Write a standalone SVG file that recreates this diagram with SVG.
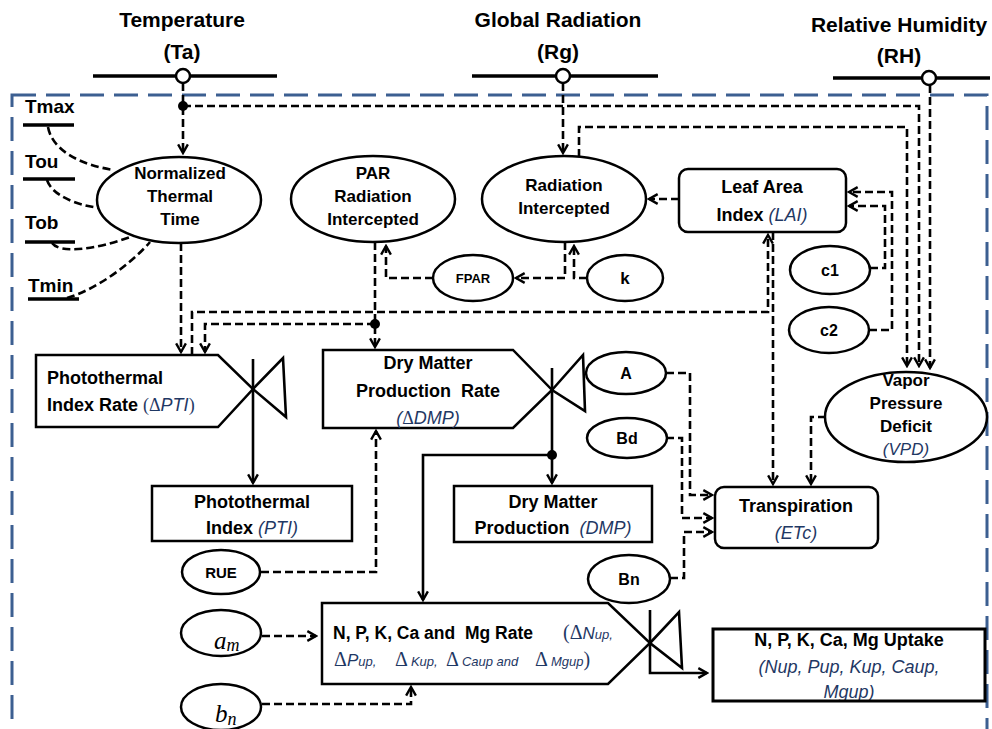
<svg xmlns="http://www.w3.org/2000/svg" width="992" height="729" viewBox="0 0 992 729">
<defs>
<style>
.t{font-family:"Liberation Sans",Arial,sans-serif;font-weight:bold;fill:#000}
.i{font-family:"Liberation Sans",Arial,sans-serif;font-weight:normal;font-style:italic;fill:#1F3864}
.g{font-family:"Liberation Serif","Times New Roman",serif;font-weight:normal;font-style:normal;fill:#1F3864}
.m{font-family:"Liberation Serif","Times New Roman",serif;font-style:italic;font-weight:normal;fill:#000}
.d{fill:none;stroke:#000;stroke-width:2.6;stroke-dasharray:8 4}
.s{fill:none;stroke:#000;stroke-width:2.6}
.n{fill:#fff;stroke:#000;stroke-width:2.5}
.h{stroke:#000;stroke-width:3.5}
</style>
<marker id="a" viewBox="-1 -1 12 12" refX="9" refY="5" markerWidth="13" markerHeight="13" markerUnits="userSpaceOnUse" orient="auto">
<path d="M1,0.5 L9,5 L1,9.5" fill="none" stroke="#000" stroke-width="2.2" stroke-dasharray="none"/>
</marker>
<clipPath id="upc"><rect x="713" y="629" width="272" height="71"/></clipPath>
</defs>
<rect width="992" height="729" fill="#fff"/>
<rect x="12" y="95" width="975" height="680" fill="none" stroke="#3C5F91" stroke-width="3" stroke-dasharray="24 10"/>

<g id="connectors">
<path class="d" d="M183,83 V153" marker-end="url(#a)"/>
<path class="d" d="M183,106 H919 V366" marker-end="url(#a)"/>
<path class="d" d="M563,83 V153" marker-end="url(#a)"/>
<path class="d" d="M579,157 V127 H907 V366" marker-end="url(#a)"/>
<path class="d" d="M930,85 V368" marker-end="url(#a)"/>
<path class="d" d="M48,127 C52,150 80,165 114,170"/>
<path class="d" d="M47,180 C52,195 75,205 100,208"/>
<path class="d" d="M52,243 C60,254 95,250 133,236"/>
<path class="d" d="M67,298 C95,290 130,265 150,242"/>
<path class="d" d="M181,243 V352" marker-end="url(#a)"/>
<path class="d" d="M192,355 V312 H768 V235" marker-end="url(#a)"/>
<path class="d" d="M375,324 H205 V352" marker-end="url(#a)"/>
<path class="d" d="M375,242 V347" marker-end="url(#a)"/>
<path class="d" d="M433,278 H386 V246" marker-end="url(#a)"/>
<path class="d" d="M565,242 V278 H516" marker-end="url(#a)"/>
<path class="d" d="M587,278 H574 V246" marker-end="url(#a)"/>
<path class="d" d="M679,199 H649" marker-end="url(#a)"/>
<path class="d" d="M870,268 H885 V206 H849" marker-end="url(#a)"/>
<path class="d" d="M869,330 H892 V192 H849" marker-end="url(#a)"/>
<path class="d" d="M773,232 V484" marker-end="url(#a)"/>
<path class="d" d="M826,417 H811 V484" marker-end="url(#a)"/>
<path class="d" d="M666,373 H690 V495 H712" marker-end="url(#a)"/>
<path class="d" d="M666,438 H682 V518 H712" marker-end="url(#a)"/>
<path class="d" d="M670,578 H684 V532 H712" marker-end="url(#a)"/>
<path class="d" d="M261,572 H376 V431" marker-end="url(#a)"/>
<path class="d" d="M262,636 H316" marker-end="url(#a)"/>
<path class="d" d="M262,704 H411 V687" marker-end="url(#a)"/>
<path class="s" d="M253,359 V483" marker-end="url(#a)"/>
<path class="s" d="M552,368 V483" marker-end="url(#a)"/>
<path class="s" d="M552,455 H423 V600" marker-end="url(#a)"/>
<path class="s" d="M650,610 V673 H707" marker-end="url(#a)"/>
<circle cx="183" cy="106" r="5" fill="#000"/>
<circle cx="375" cy="324" r="5" fill="#000"/>
<circle cx="552" cy="455" r="5" fill="#000"/>
</g>

<g id="ta">
<text class="t" x="182" y="27" font-size="21" text-anchor="middle">Temperature</text>
<text class="t" x="182" y="59" font-size="21" text-anchor="middle">(Ta)</text>
<line class="h" x1="93" y1="76" x2="277" y2="76"/>
<circle cx="183" cy="76" r="7" fill="#fff" stroke="#000" stroke-width="2.5"/>
</g>
<g id="rg">
<text class="t" x="558" y="27" font-size="21" text-anchor="middle">Global Radiation</text>
<text class="t" x="558" y="59" font-size="21" text-anchor="middle">(Rg)</text>
<line class="h" x1="472" y1="76" x2="658" y2="76"/>
<circle cx="563" cy="76" r="7" fill="#fff" stroke="#000" stroke-width="2.5"/>
</g>
<g id="rh">
<text class="t" x="899" y="32" font-size="21" text-anchor="middle">Relative Humidity</text>
<text class="t" x="899" y="63" font-size="21" text-anchor="middle">(RH)</text>
<line class="h" x1="833" y1="78" x2="990" y2="78"/>
<circle cx="929" cy="78" r="7" fill="#fff" stroke="#000" stroke-width="2.5"/>
</g>

<g id="tparams">
<text class="t" x="25" y="113" font-size="19">Tmax</text>
<line class="h" x1="23" y1="125" x2="74" y2="125"/>
<text class="t" x="25" y="168" font-size="19">Tou</text>
<line class="h" x1="23" y1="179" x2="75" y2="179"/>
<text class="t" x="25" y="229" font-size="19">Tob</text>
<line class="h" x1="25" y1="242" x2="75" y2="242"/>
<text class="t" x="28" y="292" font-size="19">Tmin</text>
<line class="h" x1="28" y1="299" x2="79" y2="299"/>
</g>

<g id="ntt">
<ellipse class="n" cx="179" cy="200" rx="82" ry="43"/>
<text class="t" font-size="17" text-anchor="middle"><tspan x="180" y="179">Normalized</tspan><tspan x="180" y="202">Thermal</tspan><tspan x="180" y="225">Time</tspan></text>
</g>
<g id="par">
<ellipse class="n" cx="373" cy="199" rx="82" ry="43"/>
<text class="t" font-size="17" text-anchor="middle"><tspan x="373" y="179">PAR</tspan><tspan x="373" y="202">Radiation</tspan><tspan x="373" y="225">Intercepted</tspan></text>
</g>
<g id="radint">
<ellipse class="n" cx="564" cy="199" rx="82" ry="43"/>
<text class="t" font-size="17" text-anchor="middle"><tspan x="564" y="191">Radiation</tspan><tspan x="564" y="214">Intercepted</tspan></text>
</g>
<g id="fpar">
<ellipse class="n" cx="473" cy="278" rx="40" ry="23"/>
<text class="t" x="473" y="283" font-size="13" text-anchor="middle">FPAR</text>
</g>
<g id="k">
<ellipse class="n" cx="625" cy="278" rx="38" ry="23"/>
<text class="t" x="625" y="284" font-size="17" text-anchor="middle">k</text>
</g>
<g id="lai">
<rect class="n" x="679" y="169" width="167" height="63" rx="9"/>
<text class="t" x="762" y="193" font-size="18" text-anchor="middle">Leaf Area</text>
<text class="t" x="762" y="221" font-size="18" text-anchor="middle">Index <tspan class="i">(LAI)</tspan></text>
</g>
<g id="c1">
<ellipse class="n" cx="830" cy="270" rx="40" ry="24"/>
<text class="t" x="830" y="276" font-size="16" text-anchor="middle">c1</text>
</g>
<g id="c2">
<ellipse class="n" cx="829" cy="330" rx="40" ry="23"/>
<text class="t" x="829" y="336" font-size="16" text-anchor="middle">c2</text>
</g>
<g id="vpd">
<ellipse class="n" cx="906" cy="417" rx="81" ry="45"/>
<text class="t" font-size="17" text-anchor="middle"><tspan x="906" y="386">Vapor</tspan><tspan x="906" y="409">Pressure</tspan><tspan x="906" y="432">Deficit</tspan></text>
<text class="i" x="906" y="455" font-size="17" text-anchor="middle">(VPD)</text>
</g>

<g id="ptirate">
<path class="n" d="M36,355 H218 L253,389 L218,427 H36 Z"/>
<path class="s" d="M253,389 L283,358 L286,417 Z"/>
<text class="t" x="47" y="384" font-size="18">Photothermal</text>
<text class="t" x="47" y="411" font-size="18">Index Rate <tspan class="g">(Δ</tspan><tspan class="i">PTI</tspan><tspan class="g">)</tspan></text>
</g>
<g id="pti">
<rect class="n" x="152" y="486" width="200" height="55"/>
<text class="t" x="252" y="508" font-size="18" text-anchor="middle">Photothermal</text>
<text class="t" x="252" y="534" font-size="18" text-anchor="middle">Index <tspan class="i">(PTI)</tspan></text>
</g>
<g id="dmprate">
<path class="n" d="M323,350 H513 L552,390 L513,428 H323 Z"/>
<path class="s" d="M552,390 L583,355 L585,411 Z"/>
<text class="t" x="428" y="369" font-size="18" text-anchor="middle">Dry Matter</text>
<text class="t" x="428" y="397" font-size="18" text-anchor="middle">Production&#160; Rate</text>
<text class="i" x="428" y="424" font-size="18" text-anchor="middle">(<tspan class="g">Δ</tspan>DMP)</text>
</g>
<g id="dmp">
<rect class="n" x="454" y="486" width="198" height="56"/>
<text class="t" x="553" y="508" font-size="18" text-anchor="middle">Dry Matter</text>
<text class="t" x="553" y="534" font-size="18" text-anchor="middle">Production&#160; <tspan class="i">(DMP)</tspan></text>
</g>
<g id="a-param">
<ellipse class="n" cx="626" cy="373" rx="40" ry="21"/>
<text class="t" x="626" y="379" font-size="16" text-anchor="middle">A</text>
</g>
<g id="bd">
<ellipse class="n" cx="627" cy="438" rx="40" ry="20"/>
<text class="t" x="627" y="444" font-size="16" text-anchor="middle">Bd</text>
</g>
<g id="bn">
<ellipse class="n" cx="629" cy="579" rx="41" ry="24"/>
<text class="t" x="629" y="585" font-size="16" text-anchor="middle">Bn</text>
</g>
<g id="transp">
<rect class="n" x="715" y="487" width="163" height="61" rx="9"/>
<text class="t" x="796" y="512" font-size="18" text-anchor="middle">Transpiration</text>
<text class="i" x="796" y="539" font-size="18" text-anchor="middle">(ETc)</text>
</g>
<g id="rue">
<ellipse class="n" cx="221" cy="572" rx="39" ry="22"/>
<text class="t" x="221" y="578" font-size="15" text-anchor="middle">RUE</text>
</g>
<g id="am">
<ellipse class="n" cx="221" cy="633" rx="40" ry="23"/>
<text class="m" x="214" y="649" font-size="25">a<tspan font-size="18" dy="2">m</tspan></text>
</g>
<g id="bn-param">
<ellipse class="n" cx="221" cy="707" rx="40" ry="23"/>
<text class="m" x="215" y="722" font-size="25">b<tspan font-size="18" dy="3">n</tspan></text>
</g>
<g id="nrate">
<path class="n" d="M322,603 H608 L650,643 L608,684 H322 Z"/>
<path class="s" d="M650,643 L679,612 L682,668 Z"/>
<text class="t" x="333" y="639" font-size="17.5">N, P, K, Ca and&#160; Mg Rate</text>
<text x="563" y="639"><tspan class="g" font-size="20">(Δ</tspan><tspan class="i" font-size="17">N</tspan><tspan class="i" font-size="13">up,</tspan></text>
<text x="334" y="666"><tspan class="g" font-size="20">Δ</tspan><tspan class="i" font-size="17">P</tspan><tspan class="i" font-size="13">up,</tspan></text>
<text x="395" y="666"><tspan class="g" font-size="20">Δ</tspan><tspan class="i" font-size="13" dx="3">Kup,</tspan></text>
<text x="446" y="666"><tspan class="g" font-size="20">Δ</tspan><tspan class="i" font-size="13" dx="3">Caup and</tspan></text>
<text x="535" y="666"><tspan class="g" font-size="20">Δ</tspan><tspan class="i" font-size="13" dx="3">Mgup</tspan><tspan class="g" font-size="20">)</tspan></text>
</g>
<g id="uptake">
<rect x="713" y="629" width="272" height="72" fill="#fff"/>
<text class="t" x="849" y="646" font-size="18" text-anchor="middle">N, P, K, Ca, Mg Uptake</text>
<text class="i" x="849" y="673" font-size="18" text-anchor="middle">(Nup, Pup, Kup, Caup,</text>
<text class="i" x="849" y="698" font-size="18" text-anchor="middle" clip-path="url(#upc)">Mgup)</text>
<rect x="713" y="629" width="272" height="72" fill="none" stroke="#000" stroke-width="3"/>
</g>
</svg>
